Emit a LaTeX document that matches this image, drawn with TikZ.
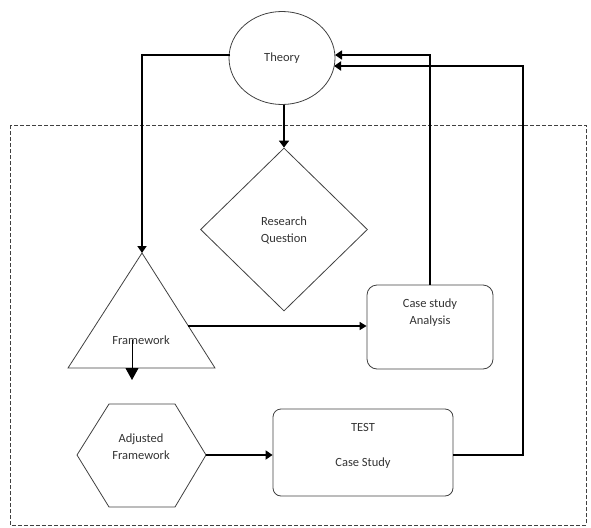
\documentclass[tikz,border=0pt]{standalone}
\usepackage{fontspec}
\setmainfont{Carlito}
\usetikzlibrary{shapes.geometric,arrows.meta}
\begin{document}
\begin{tikzpicture}[x=1pt,y=-1pt,
  shapeline/.style={draw=black!75,line width=0.8pt},
  lbl/.style={font=\fontsize{12.5}{17}\selectfont,text=black!80,align=center,inner sep=0pt},
  thickline/.style={line width=2.2pt,-{Triangle[width=9pt,length=7pt]}},
  thinline/.style={line width=1.4pt,-{Triangle[width=8pt,length=7pt]}},
  plainthick/.style={line width=2.2pt}]
\useasboundingbox (0,0) rectangle (591,527);
% dashed frame
\draw[black!75,line width=0.8pt,dash pattern=on 4pt off 2pt] (10,125) rectangle (586,525);
% Theory
\node[ellipse,shapeline,minimum width=106pt,minimum height=93pt,inner sep=0pt] (th) at (282,58) {};
\node[lbl] (thl) at (282,58) {Theory};
% Research question
\node[diamond,shapeline,minimum width=167pt,minimum height=163pt,inner sep=0pt] (rq) at (284,229.5) {};
\node[lbl] (rql) at (284,230) {Research\\Question};
% Framework triangle
\coordinate (apex) at (142,253);
\coordinate (bl) at (68,368);
\coordinate (br) at (215,368);
\draw[shapeline] (apex) -- (br) -- (bl) -- cycle;
\node[lbl] (fw) at (141,340) {Framework};
\coordinate (fwr) at (188,326);
\coordinate (fwa) at (132,340);
\coordinate (fwb) at (132,380);
% Case study analysis
\node[draw=black!75,line width=0.8pt,rounded corners=10pt,minimum width=126pt,minimum height=84pt] (csa) at (430,327) {};
\node[lbl] (csal) at (430,313) {Case study\\Analysis};
% Adjusted framework hexagon
\coordinate (h1) at (77,455);
\coordinate (h2) at (109,404);
\coordinate (h3) at (175,404);
\coordinate (h4) at (206,455);
\coordinate (h5) at (175,507);
\coordinate (h6) at (109,507);
\draw[shapeline] (h1) -- (h2) -- (h3) -- (h4) -- (h5) -- (h6) -- cycle;
\node[lbl] (afl) at (141,447) {Adjusted\\Framework};
% TEST case study
\node[draw=black!75,line width=0.8pt,rounded corners=8pt,minimum width=180pt,minimum height=87pt] (test) at (363,452.5) {};
\node[lbl] (testl) at (363,427) {TEST};
\node[lbl] (testl2) at (363,463) {Case Study};
% entry points on Theory
\coordinate (thin1) at (335,55);
\coordinate (thin2) at (334,66);
\coordinate (thout) at (230,55);
% connectors
\draw[plainthick] (thout) -- (142,55);
\draw[thickline] (142,54) -- (apex);
\draw[line width=2.6pt,-{Triangle[width=10pt,length=7pt]}] (rq.north |- th.south) -- (rq.north);
\draw[thinline] (fwr) -- (csa.west |- fwr);
\draw[line width=0.9pt,-{Triangle[width=13pt,length=12pt]}] (fwa) -- (fwb);
\draw[line width=1.6pt,-{Triangle[width=9pt,length=7pt]}] (csa.north) -- (430,55) -- (thin1);
\draw[line width=1.4pt] (test.east |- 0,455) -- (523,455);
\draw[line width=2.2pt,-{Triangle[width=9pt,length=7pt]}] (523,456) -- (523,66) -- (thin2);
\draw[thickline] (h4) -- (test.west |- h4);
\end{tikzpicture}
\end{document}
